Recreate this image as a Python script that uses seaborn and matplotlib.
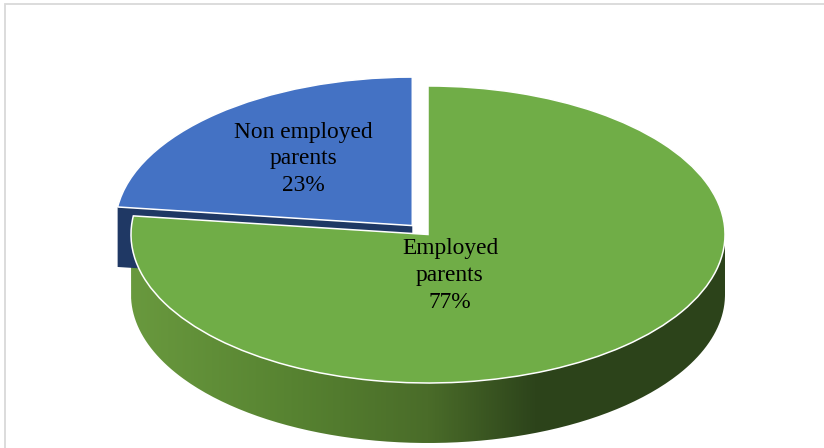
import numpy as np
import matplotlib
matplotlib.use("Agg")
import matplotlib.pyplot as plt
from matplotlib.colors import LinearSegmentedColormap
from matplotlib.patches import PathPatch, Rectangle
from matplotlib.path import Path
import seaborn as sns

categories = ["Employed\nparents", "Non employed\nparents"]
shares = [77, 23]
explode = [0, 0.08]
face_colors = ["#70AD47", "#4472C4"]
cut_face_color = "#1F3864"
rim_stops = [(0.0, "#69993E"), (0.27, "#578331"), (0.5, "#4A6C29"),
             (0.68, "#2D441B"), (1.0, "#2C431A")]

sns.set_theme(style="white")
plt.rcParams["font.family"] = ["Liberation Serif", "DejaVu Serif"]

fig = plt.figure(figsize=(8.24, 4.48), dpi=100)
ax = fig.add_axes([0, 0, 1, 1])

wedges, _ = ax.pie(shares, explode=explode, colors=sns.color_palette(face_colors),
                   startangle=90, counterclock=False, frame=False,
                   wedgeprops=dict(edgecolor="white", linewidth=1.1))
for w in wedges:
    w.set_zorder(3)

# One data unit is the pie radius; the unequal axis scales tilt the disc.
ax.set_aspect("auto")
x_limits = (-428 / 297, 396 / 297)
y_limits = (-213.5 / 148.5, 234.5 / 148.5)
depth = 60 / 148.5

# Shaded outer rim of the large slice: a gradient clipped to the extruded outline.
t = np.linspace(np.pi, 2 * np.pi, 240)
outline = np.vstack([[-1, 0], np.c_[np.cos(t), np.sin(t) - depth], [1, 0], [-1, 0]])
rim_path = Path(outline)
rim_cmap = LinearSegmentedColormap.from_list("rim", rim_stops)
shade = ax.imshow(np.linspace(0, 1, 512)[None, :], cmap=rim_cmap, aspect="auto",
                  extent=(-1, 1, -1 - depth, 0), zorder=1, interpolation="bilinear")
shade.set_clip_path(PathPatch(rim_path, transform=ax.transData))

# Cut face of the pulled-out slice, running along its straight lower edge.
small = wedges[1]
cx, cy = small.center
edge_angle = np.deg2rad(max(small.theta1, small.theta2))
ex, ey = cx + np.cos(edge_angle), cy + np.sin(edge_angle)
ax.fill([cx, ex, ex, cx], [cy, ey, ey - depth, cy - depth],
        color=cut_face_color, lw=0, zorder=2)

ax.set_xlim(*x_limits)
ax.set_ylim(*y_limits)
ax.set_axis_off()

# Slice labels
label_spots = [(0.074, -0.275), (-0.42, 0.51)]
for name, share, (lx, ly) in zip(categories, shares, label_spots):
    ax.text(lx, ly, f"{name}\n{share}%", ha="center", va="center", fontsize=16.8,
            color="black", linespacing=1.36, zorder=5)

# Chart-area border, cut off by the right and bottom of the canvas.
fig.add_artist(Rectangle((4.5 / 824, -0.05), 1.1, 0.05 + (448 - 4.5) / 448,
                         transform=fig.transFigure, fill=False,
                         edgecolor="#D9D9D9", linewidth=1.3))

fig.savefig("out.png", dpi=100)
